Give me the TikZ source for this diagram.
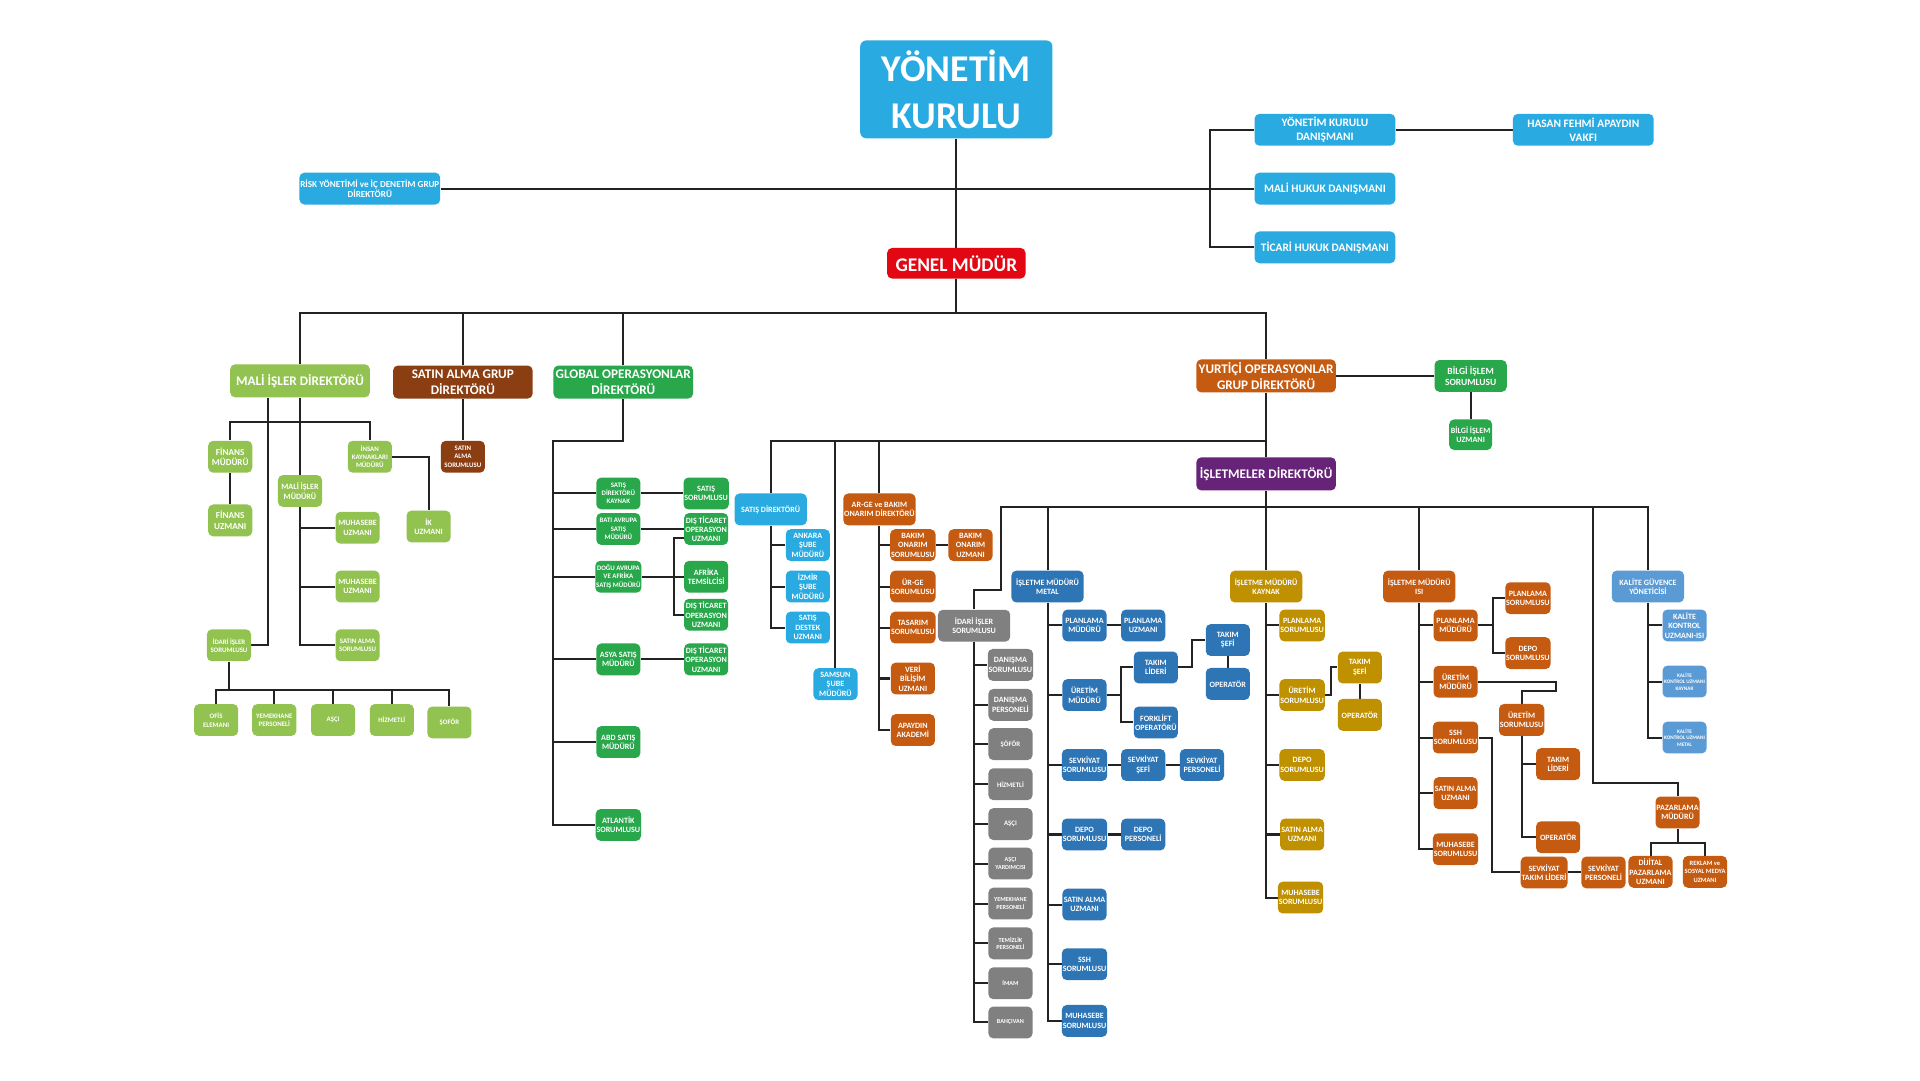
\documentclass[tikz,border=0pt]{standalone}
\usepackage{fontspec}
\setmainfont{Carlito}
\usetikzlibrary{backgrounds}

\definecolor{cCyan}{RGB}{41,171,226}
\definecolor{cRed}{RGB}{227,6,19}
\definecolor{cLime}{RGB}{146,195,80}
\definecolor{cBrown}{RGB}{139,62,18}
\definecolor{cGreen}{RGB}{40,167,75}
\definecolor{cOrange}{RGB}{197,90,17}
\definecolor{cPurple}{RGB}{102,35,120}
\definecolor{cGray}{RGB}{128,128,128}
\definecolor{cSteel}{RGB}{46,117,182}
\definecolor{cMustard}{RGB}{191,144,0}
\definecolor{cSky}{RGB}{91,155,213}
\definecolor{cLine}{RGB}{35,35,35}

\tikzset{
  box/.style={rounded corners=2.8pt, inner sep=0.5pt, align=center, text=white,
    font=\fontsize{4.6pt}{5.3pt}\selectfont\bfseries,
    minimum width=0.882cm, minimum height=0.637cm},
  mbox/.style={box, minimum width=1.445cm},
  hbox/.style={box, minimum width=2.792cm, minimum height=0.661cm,
    font=\fontsize{7.5pt}{9.1pt}\selectfont\bfseries},
  tbox/.style={box, minimum width=2.816cm,
    font=\fontsize{6.5pt}{8.3pt}\selectfont\bfseries},
  smallfont/.style={font=\fontsize{3.9pt}{4.7pt}\selectfont\bfseries},
  minifont/.style={font=\fontsize{3.5pt}{4.3pt}\selectfont\bfseries},
  tinyfont/.style={font=\fontsize{3pt}{3.7pt}\selectfont\bfseries},
  link/.style={draw=cLine, line width=1.15pt},
}

\begin{document}
\begin{tikzpicture}[x=0.0244898cm, y=-0.0244898cm]
\useasboundingbox (0,0) rectangle (1568,882);

% ---------- board and advisers ----------
\node[box, fill=cCyan, minimum width=3.845cm, minimum height=1.959cm, rounded corners=3.5pt,
      font=\fontsize{21.5pt}{26.4pt}\selectfont\bfseries] (yk) at (781,73) {YÖNETİM\\KURULU};
\node[tbox, fill=cCyan, font=\fontsize{5.2pt}{5.8pt}\selectfont\bfseries] (risk) at (302,154)
      {RİSK YÖNETİMİ ve İÇ DENETİM GRUP\\DİREKTÖRÜ};
\node[tbox, fill=cCyan] (ykd) at (1082,106) {YÖNETİM KURULU\\DANIŞMANI};
\node[tbox, fill=cCyan] (hfav) at (1293,106) {HASAN FEHMİ APAYDIN\\VAKFI};
\node[tbox, fill=cCyan] (mhd) at (1082,154) {MALİ HUKUK DANIŞMANI};
\node[tbox, fill=cCyan] (thd) at (1082,202) {TİCARİ HUKUK DANIŞMANI};
\node[box, fill=cRed, minimum width=2.767cm, minimum height=0.612cm,
      font=\fontsize{11pt}{13pt}\selectfont\bfseries] (gm) at (781,215) {GENEL MÜDÜR};

% ---------- directors ----------
\node[hbox, fill=cLime] (mid) at (245,311) {MALİ İŞLER DİREKTÖRÜ};
\node[hbox, fill=cBrown] (sag) at (378,312) {SATIN ALMA GRUP\\DİREKTÖRÜ};
\node[hbox, fill=cGreen] (god) at (509,312) {GLOBAL OPERASYONLAR\\DİREKTÖRÜ};
\node[hbox, fill=cOrange] (yod) at (1034,307) {YURTİÇİ OPERASYONLAR\\GRUP DİREKTÖRÜ};
\node[mbox, fill=cGreen, font=\fontsize{5.4pt}{6.4pt}\selectfont\bfseries] (bis) at (1201,307) {BİLGİ İŞLEM\\SORUMLUSU};
\node[box, fill=cGreen, minimum width=0.857cm, minimum height=0.612cm] (biu) at (1201,355) {BİLGİ İŞLEM\\UZMANI};
\node[hbox, fill=cPurple] (isd) at (1034,387) {İŞLETMELER DİREKTÖRÜ};

% ---------- finance ----------
\node[box, fill=cLime, font=\fontsize{5.2pt}{6.2pt}\selectfont\bfseries] (fm) at (188,373) {FİNANS\\MÜDÜRÜ};
\node[box, fill=cLime, font=\fontsize{5.2pt}{6.2pt}\selectfont\bfseries] (fu) at (188,425) {FİNANS\\UZMANI};
\node[box, fill=cLime, smallfont] (ikm) at (302,373) {İNSAN\\KAYNAKLARI\\MÜDÜRÜ};
\node[box, fill=cLime] (mim) at (245,401) {MALİ İŞLER\\MÜDÜRÜ};
\node[box, fill=cLime] (iku) at (350,430) {İK\\UZMANI};
\node[box, fill=cLime] (mu1) at (292,431) {MUHASEBE\\UZMANI};
\node[box, fill=cLime] (mu2) at (292,479) {MUHASEBE\\UZMANI};
\node[box, fill=cLime, smallfont] (sas) at (292,527) {SATIN ALMA\\SORUMLUSU};
\node[box, fill=cLime, smallfont] (iis) at (187,527) {İDARİ İŞLER\\SORUMLUSU};
\node[box, fill=cLime, smallfont] (ofe) at (176.5,588) {OFİS\\ELEMANI};
\node[box, fill=cLime, smallfont] (yep) at (224,588) {YEMEKHANE\\PERSONELİ};
\node[box, fill=cLime, smallfont] (asc) at (272,588) {AŞÇI};
\node[box, fill=cLime, smallfont] (hiz) at (320,588) {HİZMETLİ};
\node[box, fill=cLime, smallfont] (sof) at (367,590) {ŞOFÖR};

% ---------- purchasing ----------
\node[box, fill=cBrown, smallfont] (sas2) at (378,373) {SATIN\\ALMA\\SORUMLUSU};

% ---------- global operations ----------
\node[box, fill=cGreen, smallfont] (sdk) at (505,403) {SATIŞ\\DİREKTÖRÜ\\KAYNAK};
\node[box, fill=cGreen, smallfont] (bam) at (505,432) {BATI AVRUPA\\SATIŞ\\MÜDÜRÜ};
\node[box, fill=cGreen, smallfont] (dam) at (505,471) {DOĞU AVRUPA\\VE AFRİKA\\SATIŞ MÜDÜRÜ};
\node[box, fill=cGreen] (asm) at (505,538.5) {ASYA SATIŞ\\MÜDÜRÜ};
\node[box, fill=cGreen] (abd) at (505,606) {ABD SATIŞ\\MÜDÜRÜ};
\node[box, fill=cGreen] (atl) at (505,673.7) {ATLANTİK\\SORUMLUSU};
\node[box, fill=cGreen] (ss) at (576.7,403) {SATIŞ\\SORUMLUSU};
\node[box, fill=cGreen] (dt1) at (576.7,432) {DIŞ TİCARET\\OPERASYON\\UZMANI};
\node[box, fill=cGreen] (afr) at (576.7,471) {AFRİKA\\TEMSİLCİSİ};
\node[box, fill=cGreen] (dt2) at (576.7,502) {DIŞ TİCARET\\OPERASYON\\UZMANI};
\node[box, fill=cGreen] (dt3) at (576.7,538.5) {DIŞ TİCARET\\OPERASYON\\UZMANI};

% ---------- domestic sales ----------
\node[mbox, fill=cCyan] (sd) at (629.4,416) {SATIŞ DİREKTÖRÜ};
\node[box, fill=cCyan] (ank) at (659.7,445.2) {ANKARA\\ŞUBE\\MÜDÜRÜ};
\node[box, fill=cCyan] (izm) at (659.7,479) {İZMİR\\ŞUBE\\MÜDÜRÜ};
\node[box, fill=cCyan] (sdu) at (659.7,512.5) {SATIŞ\\DESTEK\\UZMANI};
\node[box, fill=cCyan] (sam) at (682.3,558.7) {SAMSUN\\ŞUBE\\MÜDÜRÜ};

% ---------- R&D and maintenance ----------
\node[mbox, fill=cOrange] (arge) at (718.2,416) {AR-GE ve BAKIM\\ONARIM DİREKTÖRÜ};
\node[box, fill=cOrange] (bos) at (745.5,445.2) {BAKIM\\ONARIM\\SORUMLUSU};
\node[box, fill=cOrange] (bou) at (792.6,445.2) {BAKIM\\ONARIM\\UZMANI};
\node[box, fill=cOrange] (urge) at (745.5,479) {ÜR-GE\\SORUMLUSU};
\node[box, fill=cOrange] (tas) at (745.5,512.5) {TASARIM\\SORUMLUSU};
\node[box, fill=cOrange] (vbu) at (745.5,554.1) {VERİ\\BİLİŞİM\\UZMANI};
\node[box, fill=cOrange] (apa) at (745.5,596.2) {APAYDIN\\AKADEMİ};

% ---------- administration ----------
\node[mbox, fill=cGray] (iis2) at (795.5,511) {İDARİ İŞLER\\SORUMLUSU};
\node[box, fill=cGray] (dsr) at (825.2,543) {DANIŞMA\\SORUMLUSU};
\node[box, fill=cGray] (dpr) at (825.2,575.6) {DANIŞMA\\PERSONELİ};
\node[box, fill=cGray, smallfont] (sfr) at (825.2,607.7) {ŞÖFÖR};
\node[box, fill=cGray, smallfont] (hzm) at (825.2,640.4) {HİZMETLİ};
\node[box, fill=cGray, smallfont] (asci) at (825.2,673) {AŞÇI};
\node[box, fill=cGray, minifont] (ayr) at (825.2,705.2) {AŞÇI\\YARDIMCISI};
\node[box, fill=cGray, minifont] (ymp) at (825.2,737.9) {YEMEKHANE\\PERSONELİ};
\node[box, fill=cGray, minifont] (tzp) at (825.2,770.4) {TEMİZLİK\\PERSONELİ};
\node[box, fill=cGray, minifont] (imm) at (825.2,803) {İMAM};
\node[box, fill=cGray, minifont] (bhc) at (825.2,835) {BAHÇIVAN};

% ---------- metal plant ----------
\node[mbox, fill=cSteel] (met) at (855.5,479) {İŞLETME MÜDÜRÜ\\METAL};
\node[box, fill=cSteel] (pm1) at (885.7,510.8) {PLANLAMA\\MÜDÜRÜ};
\node[box, fill=cSteel] (pu1) at (933.6,510.8) {PLANLAMA\\UZMANI};
\node[box, fill=cSteel] (um1) at (885.7,567.6) {ÜRETİM\\MÜDÜRÜ};
\node[box, fill=cSteel] (tl1) at (943.9,545.1) {TAKIM\\LİDERİ};
\node[box, fill=cSteel] (fo1) at (943.9,590) {FORKLİFT\\OPERATÖRÜ};
\node[box, fill=cSteel] (ts1) at (1002.7,522.7) {TAKIM\\ŞEFİ};
\node[box, fill=cSteel] (op1) at (1002.7,558.5) {OPERATÖR};
\node[box, fill=cSteel] (svs1) at (885.7,624.7) {SEVKİYAT\\SORUMLUSU};
\node[box, fill=cSteel] (sse1) at (933.6,624.7) {SEVKİYAT\\ŞEFİ};
\node[box, fill=cSteel] (svp1) at (981.6,624.7) {SEVKİYAT\\PERSONELİ};
\node[box, fill=cSteel] (dps1) at (885.7,681.5) {DEPO\\SORUMLUSU};
\node[box, fill=cSteel] (dpp1) at (933.6,681.5) {DEPO\\PERSONELİ};
\node[box, fill=cSteel] (sau1) at (885.7,738.7) {SATIN ALMA\\UZMANI};
\node[box, fill=cSteel] (ssh1) at (885.7,787.4) {SSH\\SORUMLUSU};
\node[box, fill=cSteel] (mhs1) at (885.7,833.7) {MUHASEBE\\SORUMLUSU};

% ---------- welding plant ----------
\node[mbox, fill=cMustard] (kay) at (1034,479) {İŞLETME MÜDÜRÜ\\KAYNAK};
\node[box, fill=cMustard] (ps2) at (1063.4,510.8) {PLANLAMA\\SORUMLUSU};
\node[box, fill=cMustard] (us2) at (1063.4,567.6) {ÜRETİM\\SORUMLUSU};
\node[box, fill=cMustard] (ts2) at (1110.5,545.1) {TAKIM\\ŞEFİ};
\node[box, fill=cMustard] (op2) at (1110.5,583.8) {OPERATÖR};
\node[box, fill=cMustard] (ds2) at (1063.4,624.7) {DEPO\\SORUMLUSU};
\node[box, fill=cMustard] (sau2) at (1063.4,681.5) {SATIN ALMA\\UZMANI};
\node[box, fill=cMustard] (mhs2) at (1062.1,733) {MUHASEBE\\SORUMLUSU};

% ---------- heat plant ----------
\node[mbox, fill=cOrange] (isi) at (1159,479) {İŞLETME MÜDÜRÜ\\ISI};
\node[box, fill=cOrange] (pm3) at (1188.7,510.8) {PLANLAMA\\MÜDÜRÜ};
\node[box, fill=cOrange] (ps3) at (1247.8,488.5) {PLANLAMA\\SORUMLUSU};
\node[box, fill=cOrange] (dps3) at (1247.8,533.4) {DEPO\\SORUMLUSU};
\node[box, fill=cOrange] (um3) at (1188.7,556.7) {ÜRETİM\\MÜDÜRÜ};
\node[box, fill=cOrange] (us3) at (1242.7,587.9) {ÜRETİM\\SORUMLUSU};
\node[box, fill=cOrange] (tl3) at (1272.5,624) {TAKIM\\LİDERİ};
\node[box, fill=cOrange] (op3) at (1272.5,683.7) {OPERATÖR};
\node[box, fill=cOrange] (ssh3) at (1188.7,602.3) {SSH\\SORUMLUSU};
\node[box, fill=cOrange] (sau3) at (1188.7,647.7) {SATIN ALMA\\UZMANI};
\node[box, fill=cOrange] (mhs3) at (1188.7,693.5) {MUHASEBE\\SORUMLUSU};
\node[box, fill=cOrange] (stl3) at (1261,712.5) {SEVKİYAT\\TAKIM LİDERİ};
\node[box, fill=cOrange] (svp3) at (1309.5,712.5) {SEVKİYAT\\PERSONELİ};

% ---------- quality and marketing ----------
\node[mbox, fill=cSky] (kgy) at (1345.8,479) {KALİTE GÜVENCE\\YÖNETİCİSİ};
\node[box, fill=cSky] (kk1) at (1375.7,510.8) {KALİTE\\KONTROL\\UZMANI-ISI};
\node[box, fill=cSky, tinyfont] (kk2) at (1375.7,556.6) {KALİTE\\KONTROL UZMANI\\KAYNAK};
\node[box, fill=cSky, tinyfont] (kk3) at (1375.7,602.3) {KALİTE\\KONTROL UZMANI\\METAL};
\node[box, fill=cOrange] (paz) at (1370,663.5) {PAZARLAMA\\MÜDÜRÜ};
\node[box, fill=cOrange] (dpu) at (1347.9,712) {DİJİTAL\\PAZARLAMA\\UZMANI};
\node[box, fill=cOrange, font=\fontsize{3.7pt}{4.8pt}\selectfont\bfseries] (rsm) at (1392.4,712) {REKLAM ve\\SOSYAL MEDYA\\UZMANI};

% ---------- junction points ----------
\coordinate (kb) at (988,154);
\coordinate (b1) at (781,256);
\coordinate (mb) at (245,345);
\coordinate (mdl) at (218.6,0);
\coordinate (ib) at (188,563.5);
\coordinate (gs) at (452,360);
\coordinate (dtop) at (550.4,439.6);
\coordinate (yb) at (1034,360);
\coordinate (ib2) at (1034,413.8);
\coordinate (il) at (817.7,481.8);
\coordinate (pz) at (1301,639.2);
\coordinate (ux) at (915.2,0);
\coordinate (tx) at (973.7,0);
\coordinate (kx) at (1086.7,0);
\coordinate (px3) at (1219,0);
\coordinate (ux3) at (1270.5,564.3);
\coordinate (sx3) at (1218.7,0);
\coordinate (pb) at (1370,688.2);

\begin{scope}[on background layer]
\fill[white] (0,0) rectangle (1568,882);
\begin{scope}[link]
% board
\draw (yk) -- (gm);
\draw (risk) -- (mhd);
\draw (ykd.west) -| (kb) |- (thd.west);
\draw (ykd) -- (hfav);
% general manager bus
\draw (gm) -- (b1);
\draw (mid.north) -- (mid.north |- b1) -- (yod.north |- b1) -- (yod.north);
\draw (sag.north) -- (sag.north |- b1);
\draw (god.north) -- (god.north |- b1);
% finance
\draw (fm.north) -- (fm.north |- mb) -- (ikm.north |- mb) -- (ikm.north);
\draw (mid.south) -- (mim.north);
\draw (fm) -- (fu);
\draw (ikm.east) -| (iku.north);
\draw (mim.south) |- (sas.west);
\draw (mim.south |- mu1) -- (mu1.west);
\draw (mim.south |- mu2) -- (mu2.west);
\draw (iis.east) -| (mdl |- mid.south);
\draw (iis.south) -- (iis.south |- ib);
\draw (ofe.north) -- (ofe.north |- ib) -- (sof.north |- ib) -- (sof.north);
\draw (yep.north) -- (yep.north |- ib);
\draw (asc.north) -- (asc.north |- ib);
\draw (hiz.north) -- (hiz.north |- ib);
% purchasing
\draw (sag) -- (sas2);
% global operations
\draw (god.south) |- (gs) |- (atl.west);
\draw (gs |- sdk.west) -- (sdk.west);
\draw (gs |- bam.west) -- (bam.west);
\draw (gs |- dam.west) -- (dam.west);
\draw (gs |- asm.west) -- (asm.west);
\draw (gs |- abd.west) -- (abd.west);
\draw (sdk) -- (ss);
\draw (bam) -- (dt1);
\draw (dam) -- (afr);
\draw (asm) -- (dt3);
\draw (dtop -| dt1.west) -- (dtop) |- (dt2.west);
% domestic operations
\draw (yod) -- (bis);
\draw (bis) -- (biu);
\draw (yod) -- (isd);
\draw (sd.north) |- (yb);
\draw (sam.north) -- (sam.north |- yb);
\draw (arge.north) -- (arge.north |- yb);
\draw (sd.south) |- (sdu.west);
\draw (sd.south |- ank.west) -- (ank.west);
\draw (sd.south |- izm.west) -- (izm.west);
\draw (arge.south) |- (apa.west);
\draw (arge.south |- bos.west) -- (bos.west);
\draw (arge.south |- urge.west) -- (urge.west);
\draw (arge.south |- tas.west) -- (tas.west);
\draw (arge.south |- vbu.west) -- (vbu.west);
\draw (bos) -- (bou);
% plants bus
\draw (isd.south) -- (ib2);
\draw (iis2.north) |- (il) |- (kgy.north |- ib2) -- (kgy.north);
\draw (met.north) -- (met.north |- ib2);
\draw (kay.north) -- (ib2);
\draw (isi.north) -- (isi.north |- ib2);
\draw (pz |- ib2) -- (pz) -| (paz.north);
% administration
\draw (iis2.south) |- (bhc.west);
\foreach \n in {dsr,dpr,sfr,hzm,asci,ayr,ymp,tzp,imm}
  \draw (iis2.south |- \n.west) -- (\n.west);
% metal
\draw (met.south) |- (mhs1.west);
\foreach \n in {pm1,um1,svs1,dps1,sau1,ssh1}
  \draw (met.south |- \n.west) -- (\n.west);
\draw (pm1) -- (pu1);
\draw (um1.east) -- (um1.east -| ux);
\draw (tl1.west) -| (ux |- fo1.west) -- (fo1.west);
\draw (tl1.east) -- (tl1.east -| tx) |- (ts1.west);
\draw (ts1) -- (op1);
\draw (svs1) -- (sse1) -- (svp1);
\draw (dps1) -- (dpp1);
% welding
\draw (kay.south) |- (mhs2.west);
\foreach \n in {ps2,us2,ds2,sau2}
  \draw (kay.south |- \n.west) -- (\n.west);
\draw (us2.east) -- (us2.east -| kx) |- (ts2.west);
\draw (ts2) -- (op2);
% heat
\draw (isi.south) |- (mhs3.west);
\foreach \n in {pm3,um3,ssh3,sau3}
  \draw (isi.south |- \n.west) -- (\n.west);
\draw (pm3.east) -- (pm3.east -| px3);
\draw (ps3.west) -| (px3 |- dps3.west) -- (dps3.west);
\draw (um3.east) -| (ux3) -| (us3.north);
\draw (us3.south) |- (op3.west);
\draw (us3.south |- tl3.west) -- (tl3.west);
\draw (ssh3.east) -| (sx3 |- stl3.west) -- (stl3.west);
\draw (stl3) -- (svp3);
% quality
\draw (kgy.south) |- (kk3.west);
\draw (kgy.south |- kk1.west) -- (kk1.west);
\draw (kgy.south |- kk2.west) -- (kk2.west);
% marketing
\draw (paz.south) -- (pb);
\draw (dpu.north) -- (dpu.north |- pb) -- (rsm.north |- pb) -- (rsm.north);
\end{scope}
\end{scope}
\end{tikzpicture}
\end{document}
